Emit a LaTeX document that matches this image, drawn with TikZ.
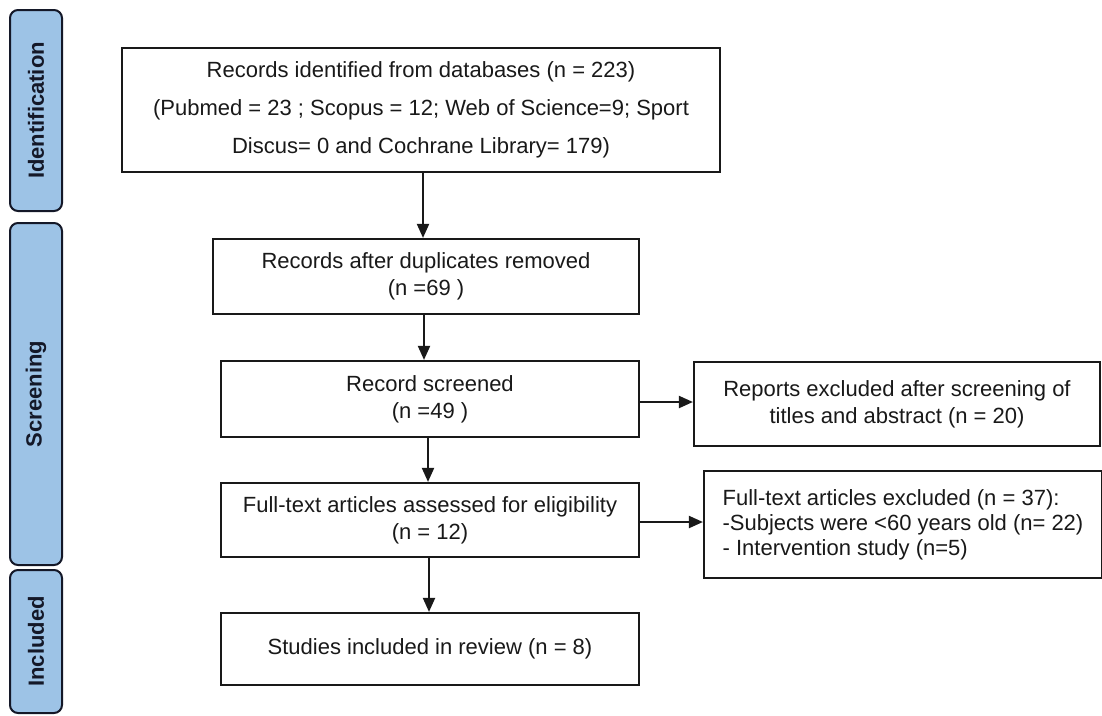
\documentclass[tikz,border=0pt]{standalone}
\usepackage{fontspec}
\setmainfont{Liberation Sans}
\usetikzlibrary{arrows.meta}
\definecolor{barfill}{RGB}{157,195,230}
\definecolor{barline}{RGB}{20,24,40}
\definecolor{ink}{RGB}{25,25,25}
\tikzset{
  stagebar/.style={draw=barline, line width=2pt, fill=barfill, rounded corners=8pt,
    minimum width=52pt, inner sep=0pt},
  stagetext/.style={rotate=90, text=barline, font=\fontsize{22}{26}\selectfont\bfseries},
  flowbox/.style={draw=ink, line width=2.2pt, fill=white, inner sep=0pt, align=center,
    text=ink, font=\fontsize{22}{27}\selectfont},
  arr/.style={draw=ink, line width=2pt, -{Triangle[length=14pt,width=12pt]}}
}
\begin{document}
\begin{tikzpicture}[x=1pt,y=-1pt]
\useasboundingbox[fill=white] (0,0) rectangle (1102,715);
% stage bars
\node[stagebar, minimum height=201pt] (sid) at (36,110.5) {};
\node[stagetext] (tid) at (sid.center) {Identification};
\node[stagebar, minimum height=342pt] (sscr) at (36,394) {};
\node[stagetext] (tscr) at (sscr.center) {Screening};
\node[stagebar, minimum height=143pt] (sinc) at (36,641.5) {};
\node[stagetext] (tinc) at (sinc.center) {Included};
% boxes
\node[flowbox, minimum width=598pt, minimum height=124pt, font=\fontsize{22}{38}\selectfont] (b1) at (421,110)
  {Records identified from databases (n = 223)\\(Pubmed = 23 ; Scopus = 12; Web of Science=9; Sport\\Discus= 0 and Cochrane Library= 179)};
\node[flowbox, minimum width=426pt, minimum height=75pt] (b2) at (426,276.5)
  {Records after duplicates removed\\(n =69 )};
\node[flowbox, minimum width=418pt, minimum height=76pt] (b3) at (430,399)
  {Record screened\\(n =49 )};
\node[flowbox, minimum width=406pt, minimum height=84pt] (b4) at (897,404)
  {Reports excluded after screening of\\titles and abstract (n = 20)};
\node[flowbox, minimum width=398pt, minimum height=107pt, align=left, font=\fontsize{22}{25}\selectfont] (b5) at (903,524.5)
  {Full-text articles excluded (n = 37):\\-Subjects were <60 years old (n= 22)\\- Intervention study (n=5)};
\node[flowbox, minimum width=418pt, minimum height=74pt] (b6) at (430,520)
  {Full-text articles assessed for eligibility\\(n = 12)};
\node[flowbox, minimum width=418pt, minimum height=72pt] (b7) at (430,649)
  {Studies included in review (n = 8)};
% connectors
\coordinate (x1) at (423,0);
\coordinate (x2) at (424,0);
\coordinate (x3) at (428,0);
\coordinate (x4) at (429,0);
\coordinate (y1) at (0,402);
\coordinate (y2) at (0,522);
\draw[arr] (b1.south -| x1) -- (b2.north -| x1);
\draw[arr] (b2.south -| x2) -- (b3.north -| x2);
\draw[arr] (b3.south -| x3) -- (b6.north -| x3);
\draw[arr] (b6.south -| x4) -- (b7.north -| x4);
\draw[arr] (b3.east |- y1) -- (b4.west |- y1);
\draw[arr] (b6.east |- y2) -- (b5.west |- y2);
\end{tikzpicture}
\end{document}
